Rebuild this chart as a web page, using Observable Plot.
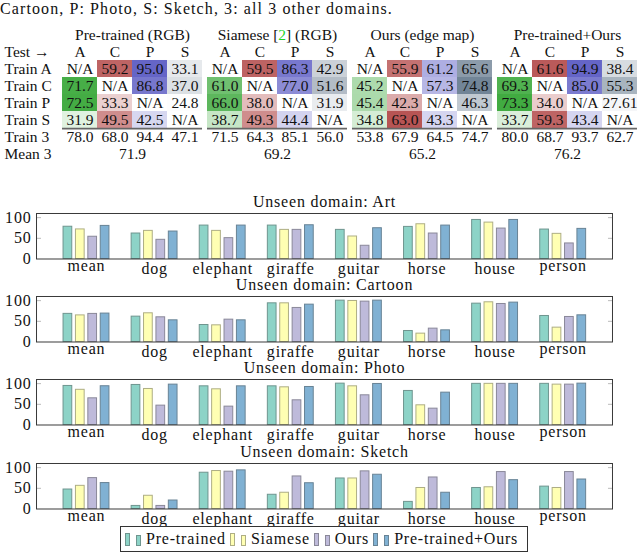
<!DOCTYPE html>
<html><head><meta charset="utf-8">
<script src="https://cdn.jsdelivr.net/npm/d3@7"></script>
<script src="https://cdn.jsdelivr.net/npm/@observablehq/plot@0.6"></script>
<style>
body{margin:0;background:#fff;}
#root{position:relative;width:640px;height:558px;overflow:hidden;font-family:"Liberation Serif","Times New Roman","DejaVu Serif",serif;color:#111;}
#root svg{overflow:visible;}
#root svg text{font-family:"Liberation Serif","Times New Roman","DejaVu Serif",serif;}
.abs{position:absolute;left:0;}
#caption{top:0;left:0;font-size:16px;line-height:18px;letter-spacing:1.1px;white-space:nowrap;}
.panel text{letter-spacing:0.8px;}
#legend{position:absolute;left:120px;top:526px;height:26px;border:1px solid #333;display:flex;align-items:center;padding:0 5px 0 4px;font-size:16px;letter-spacing:0.8px;white-space:nowrap;background:#fff;box-sizing:border-box;}
#legend .ico{display:inline-flex;align-items:flex-end;height:14px;width:16px;margin-right:5px;gap:6px;}
#legend .ico i{display:block;width:3px;border:1px solid;}
#legend .lbl{margin-right:4px;}
</style></head><body><div id="root"></div>
<script>
// ---------- Table data ----------
const methods = ["Pre-trained (RGB)", "Siamese [2] (RGB)", "Ours (edge map)", "Pre-trained+Ours"];
const tests = ["A", "C", "P", "S"];
const trainRows = ["Train A", "Train C", "Train P", "Train S"];
const preTrainedGrid = [[null, 59.2, 95.0, 33.1], [71.7, null, 86.8, 37.0], [72.5, 33.3, null, 24.8], [31.9, 49.5, 42.5, null]];
const siameseGrid    = [[null, 59.5, 86.3, 42.9], [61.0, null, 77.0, 51.6], [66.0, 38.0, null, 31.9], [38.7, 49.3, 44.4, null]];
const oursGrid       = [[null, 55.9, 61.2, 65.6], [45.2, null, 57.3, 74.8], [45.4, 42.3, null, 46.3], [34.8, 63.0, 43.3, null]];
const preOursGrid    = [[null, 61.6, 94.9, 38.4], [69.3, null, 85.0, 55.3], [73.3, 34.0, null, 27.61], [33.7, 59.3, 43.4, null]];
const preTrained3 = [78.0, 68.0, 94.4, 47.1];
const siamese3    = [71.5, 64.3, 85.1, 56.0];
const ours3       = [53.8, 67.9, 64.5, 74.7];
const preOurs3    = [80.0, 68.7, 93.7, 62.7];
const mean3 = [71.9, 69.2, 65.2, 76.2];

// ---------- Bar data ----------
const categories = ["mean", "dog", "elephant", "giraffe", "guitar", "horse", "house", "person"];
const seriesNames = ["Pre-trained", "Siamese", "Ours", "Pre-trained+Ours"];
const seriesColors = ["#8dd3c7", "#ffffb3", "#bebada", "#80b1d3"];
const artPre   = [78.0, 61.6, 80.8, 80.8, 70.4, 77.6, 94.4, 71.2];
const artSiam  = [71.5, 68.0, 68.0, 70.4, 54.4, 84.0, 88.0, 60.8];
const artOurs  = [53.8, 46.4, 50.4, 70.4, 32.0, 61.6, 73.6, 37.6];
const artPO    = [80.0, 66.4, 80.8, 81.6, 74.4, 80.8, 94.4, 72.8];
const cartPre  = [68.0, 61.3, 41.1, 93.5, 100, 26.6, 92.7, 62.9];
const cartSiam = [64.3, 69.4, 40.3, 93.5, 99.2, 20.2, 96.0, 34.7];
const cartOurs = [67.9, 59.7, 54.0, 82.3, 97.6, 32.3, 91.9, 60.5];
const cartPO   = [68.7, 52.4, 52.4, 90.3, 100, 28.2, 95.2, 64.5];
const photoPre  = [94.4, 96.8, 93.5, 93.5, 100, 82.3, 99.5, 99.5];
const photoSiam = [85.1, 87.1, 86.3, 91.1, 93.5, 47.6, 99.5, 97.6];
const photoOurs = [64.5, 46.8, 44.4, 59.7, 71.8, 39.5, 99.5, 97.6];
const photoPO   = [93.7, 97.6, 93.5, 91.9, 99.2, 78.2, 99.5, 100];
const sketchPre  = [47.1, 7.4, 87.7, 34.4, 73.8, 17.2, 50.8, 54.1];
const sketchSiam = [56.0, 32.0, 91.8, 39.3, 73.8, 50.8, 52.5, 50.8];
const sketchOurs = [74.7, 7.4, 90.2, 78.7, 91.0, 76.2, 89.3, 89.3];
const sketchPO   = [62.7, 20.5, 93.4, 62.3, 82.8, 39.3, 69.7, 71.3];
const panelTitles = ["Unseen domain: Art", "Unseen domain: Cartoon", "Unseen domain: Photo", "Unseen domain: Sketch"];
const yTicks = [0, 50, 100];

// ---------- helpers ----------
const FONT = "'Liberation Serif', 'Times New Roman', 'DejaVu Serif', serif";
const root = document.getElementById("root");
function place(el, top) { const d = document.createElement("div"); d.className = "abs"; d.style.top = top + "px"; d.appendChild(el); root.appendChild(d); return d; }
const fmt = v => v == null ? "N/A" : (Math.abs(v * 10 - Math.round(v * 10)) < 1e-6 ? v.toFixed(1) : String(v));
const ramps = {
  A: {base: "rgb(58,168,58)", lo: 24, hi: 75},
  C: {base: "rgb(178,72,72)", lo: 22, hi: 66},
  P: {base: "rgb(90,90,195)", lo: 24, hi: 100},
  S: {base: "rgb(100,120,140)", lo: 24, hi: 80}
};
function cellColor(test, v) {
  const r = ramps[test];
  const t = Math.max(0, Math.min(1, (v - r.lo) / (r.hi - r.lo)));
  return d3.interpolateRgb("white", r.base)(t);
}

// caption
const cap = document.createElement("div");
cap.id = "caption"; cap.className = "abs";
cap.textContent = "Cartoon, P: Photo, S: Sketch, 3: all 3 other domains.";
root.appendChild(cap);

// ---------- Table ----------
const grids = [preTrainedGrid, siameseGrid, oursGrid, preOursGrid];
const totals3 = [preTrained3, siamese3, ours3, preOurs3];
const rowDomain = ["hdr", "Test →", ...trainRows, "Train 3", "Mean 3"];
const cells = [];
grids.forEach((g, k) => g.forEach((row, r) => row.forEach((v, c) => cells.push({method: methods[k], train: trainRows[r], test: tests[c], v}))));
const totals = [];
totals3.forEach((row, k) => row.forEach((v, c) => totals.push({method: methods[k], test: tests[c], v})));
const testHdr = [];
methods.forEach(m => tests.forEach(t => testHdr.push({method: m, test: t})));

const table = Plot.plot({
  width: 640, height: 178.7,
  marginTop: 9.2, marginBottom: 32.1, marginLeft: 61, marginRight: 1,
  style: {fontFamily: FONT, fontSize: "15px", color: "#111", background: "transparent", overflow: "visible"},
  fx: {domain: methods, axis: null, paddingInner: 0.032, paddingOuter: 0},
  x: {domain: tests, axis: null, padding: 0},
  y: {domain: rowDomain, axis: null, padding: 0},
  color: {type: "identity"},
  marks: [
    Plot.cell(cells.filter(d => d.v != null), {fx: "method", x: "test", y: "train", fill: d => cellColor(d.test, d.v)}),
    Plot.ruleY(["Train S"], {dy: 8.6, stroke: "#666", strokeWidth: 1.6}),
    Plot.text(cells, {fx: "method", x: "test", y: "train", text: d => fmt(d.v), fontSize: 15.5, fill: "#111"}),
    Plot.text(totals, {fx: "method", x: "test", y: () => "Train 3", text: d => fmt(d.v), fontSize: 15.5, fill: "#111"}),
    Plot.text(methods.map((m, k) => ({method: m, v: mean3[k]})), {fx: "method", y: () => "Mean 3", text: d => fmt(d.v), frameAnchor: "middle", fontSize: 15.5, fill: "#111"}),
    Plot.text(methods.map(m => ({method: m})), {fx: "method", y: () => "hdr", text: "method", frameAnchor: "middle", fontSize: 15.5, fill: "#111"}),
    Plot.text(testHdr, {fx: "method", x: "test", y: () => "Test →", text: "test", fontSize: 15.5, fill: "#111"}),
    Plot.text(rowDomain.slice(1).map(r => ({method: methods[0], row: r})), {fx: "method", y: "row", text: "row", frameAnchor: "left", textAnchor: "start", dx: -58, fontSize: 15.5, fill: "#111"})
  ]
});
// colour the citation number
table.querySelectorAll("text").forEach(t => {
  if (t.textContent === "Siamese [2] (RGB)") {
    t.textContent = "";
    t.appendChild(document.createTextNode("Siamese ["));
    const ts = document.createElementNS("http://www.w3.org/2000/svg", "tspan");
    ts.setAttribute("fill", "#1ed41e"); ts.textContent = "2";
    t.appendChild(ts);
    t.appendChild(document.createTextNode("] (RGB)"));
  }
});
place(table, 16);

// ---------- Bar panels ----------
const panelSeries = [
  [artPre, artSiam, artOurs, artPO],
  [cartPre, cartSiam, cartOurs, cartPO],
  [photoPre, photoSiam, photoOurs, photoPO],
  [sketchPre, sketchSiam, sketchOurs, sketchPO]
];
const strokeColors = seriesColors.map(c => d3.interpolateRgb(c, "#4a4a4a")(0.45));
const hasAsc = s => /[bdfhiklt]/.test(s);
const catData = categories.map((name, i) => ({name, i}));
const slot = 0.182, half = 0.064;

panelSeries.forEach((series, p) => {
  const bars = [];
  series.forEach((vals, j) => vals.forEach((v, i) => bars.push({i, j, v})));
  const svg = Plot.plot({
    width: 640, height: 83.3,
    marginTop: 18, marginBottom: 19.8, marginLeft: 36, marginRight: 28,
    style: {fontFamily: FONT, fontSize: "16px", color: "#111", background: "transparent", overflow: "visible"},
    x: {domain: [-0.734, 7.724], axis: null},
    y: {domain: [0, 110], axis: null},
    color: {type: "identity"},
    marks: [
      Plot.rect(bars, {
        x1: b => b.i + (b.j - 1.5) * slot - half,
        x2: b => b.i + (b.j - 1.5) * slot + half,
        y1: () => 0, y2: "v",
        fill: b => seriesColors[b.j], stroke: b => strokeColors[b.j], strokeWidth: 1
      }),
      Plot.axisY({anchor: "left", ticks: [50, 100], tickSize: -5, tickFormat: () => "", stroke: "#bbb", label: null}),
      Plot.axisY({anchor: "right", ticks: [50, 100], tickSize: -5, tickFormat: () => "", stroke: "#bbb", label: null}),
      Plot.axisY({anchor: "left", ticks: yTicks, tickSize: 0, tickPadding: 5, fontSize: 16, label: null, fill: "#111"}),
      Plot.frame({stroke: "#3a3a3a", strokeWidth: 1}),
      Plot.text(catData.filter(d => hasAsc(d.name)), {x: "i", text: "name", frameAnchor: "bottom", lineAnchor: "top", dy: 4, fontSize: 16, fill: "#111"}),
      Plot.text(catData.filter(d => !hasAsc(d.name)), {x: "i", text: "name", frameAnchor: "bottom", lineAnchor: "top", dy: 0.5, fontSize: 16, fill: "#111"}),
      Plot.text([panelTitles[p]], {text: d => d, frameAnchor: "top", lineAnchor: "bottom", dy: -6, fontSize: 16, fill: "#111"})
    ]
  });
  const holder = place(svg, 194.7 + p * 83.33);
  holder.classList.add("panel");
});

// ---------- Legend ----------
const leg = document.createElement("div");
leg.id = "legend";
seriesNames.forEach((name, j) => {
  const ico = document.createElement("span"); ico.className = "ico";
  [13, 11].forEach(h => {
    const b = document.createElement("i");
    b.style.height = (h - 2) + "px";
    b.style.background = seriesColors[j];
    b.style.borderColor = strokeColors[j];
    ico.appendChild(b);
  });
  const lbl = document.createElement("span"); lbl.className = "lbl"; lbl.textContent = name;
  leg.appendChild(ico); leg.appendChild(lbl);
});
root.appendChild(leg);
</script></body></html>
